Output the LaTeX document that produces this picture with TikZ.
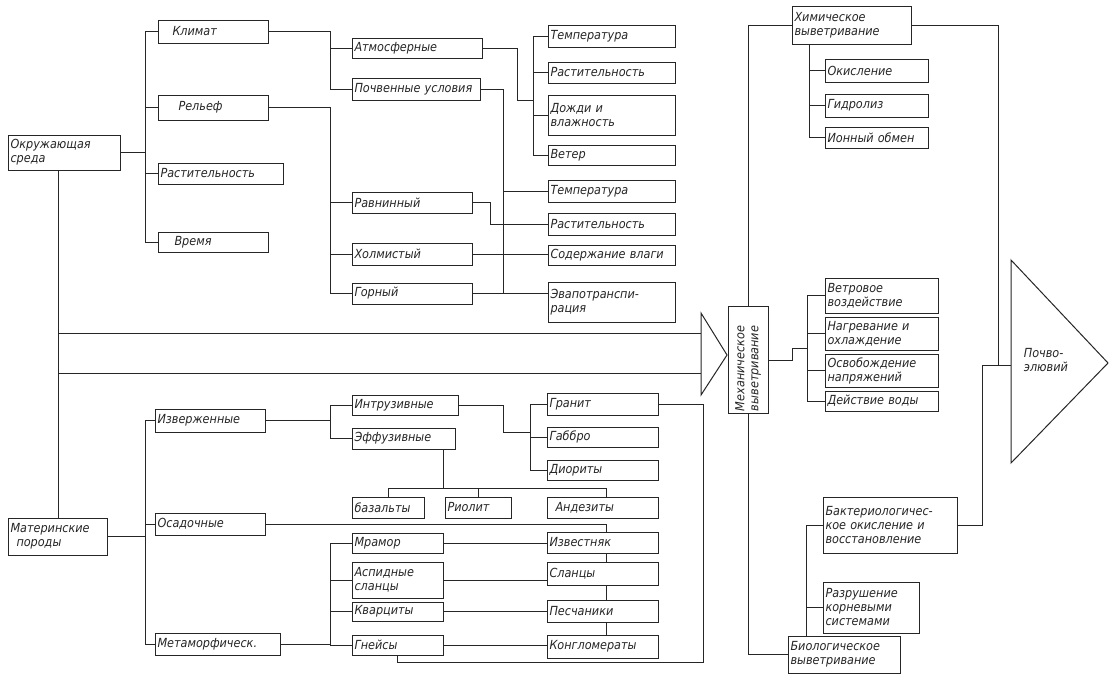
\documentclass[tikz,border=0pt]{standalone}
\usepackage{fontspec}
\setmainfont{DejaVu Sans Condensed}[ItalicFont={DejaVu Sans Condensed Oblique}]
\definecolor{ink}{HTML}{262626}
\newcommand\mybox[7][]{%
  \pgfmathsetmacro\mybw{#5-#3-5}%
  \pgfmathsetmacro\mybh{#6-#4}%
  \node[bx,#1,text width=\mybw pt,minimum height=\mybh pt,anchor=north west] (#2) at (#3,#4) {#7};%
}
\begin{document}
\begin{tikzpicture}[x=1pt,y=-1pt,line width=1pt,draw=ink,
  bx/.style={draw=ink,line width=1pt,inner xsep=2.5pt,inner ysep=0pt,outer sep=0pt,
    text=ink,font=\fontsize{12.5}{14}\selectfont\itshape,align=left}]
\fill[white] (0,0) rectangle (1110,678);
\useasboundingbox (0,0) rectangle (1110,678);

% ---- environment branch
\mybox{env}{8}{135}{120}{170}{Окружающая\\среда}
\mybox{klimat}{158}{20}{268}{43}{\hspace*{12pt}Климат}
\mybox{relief}{158}{95}{268}{120}{\hspace*{18pt}Рельеф}
\mybox{rast1}{158}{163}{283}{184}{Растительность}
\mybox{vremya}{158}{232}{268}{252}{\hspace*{14pt}Время}
\mybox{atm}{352}{38}{482}{58}{Атмосферные}
\mybox{pochv}{352}{78}{480}{100}{Почвенные условия}
\mybox{temp1}{548}{25}{675}{47}{Температура}
\mybox{rast2}{548}{62}{675}{83}{Растительность}
\mybox{dozhd}{548}{95}{675}{135}{Дожди и\\влажность}
\mybox{veter}{548}{145}{675}{165}{Ветер}
\mybox{temp2}{548}{180}{675}{202}{Температура}
\mybox{rast3}{548}{213}{675}{235}{Растительность}
\mybox{soderzh}{548}{245}{675}{265}{Содержание влаги}
\mybox{evapo}{548}{282}{675}{322}{Эвапотранспи-\\рация}
\mybox{ravn}{352}{192}{472}{213}{Равнинный}
\mybox{holm}{352}{243}{472}{265}{Холмистый}
\mybox{gorn}{352}{283}{472}{304}{Горный}

% ---- weathering
\mybox{chem}{792}{6}{911}{44}{Химическое\\выветривание}
\mybox{okis}{825}{59}{928}{82}{Окисление}
\mybox{gidr}{825}{94}{928}{117}{Гидролиз}
\mybox{ion}{825}{127}{928}{148}{Ионный обмен}
\node[bx,rotate=90,text width=102pt,minimum height=40pt] (mech) at (748,360) {Механическое\\выветривание};
\mybox{vetr}{825}{278}{938}{313}{Ветровое\\воздействие}
\mybox{nagr}{825}{317}{938}{350}{Нагревание и\\охлаждение}
\mybox{osvob}{825}{354}{938}{387}{Освобождение\\напряжений}
\mybox{deyst}{825}{391}{938}{411}{Действие воды}
\mybox{bakt}{823}{497}{957}{553}{Бактериологичес-\\кое окисление и\\восстановление}
\mybox{razr}{823}{582}{919}{633}{Разрушение\\корневыми\\системами}
\mybox{bio}{788}{636}{900}{673}{Биологическое\\выветривание}

% ---- parent rocks
\mybox{mat}{8}{518}{107}{555}{Материнские\\\hspace*{6pt}породы}
\mybox{izv}{155}{409}{265}{432}{Изверженные}
\mybox{osad}{155}{513}{265}{535}{Осадочные}
\mybox{meta}{155}{633}{280}{655}{Метаморфическ.}
\mybox{intr}{352}{395}{458}{415}{Интрузивные}
\mybox{eff}{352}{428}{455}{449}{Эффузивные}
\mybox{granit}{547}{393}{658}{415}{Гранит}
\mybox{gabbro}{547}{427}{658}{447}{Габбро}
\mybox{diorit}{547}{460}{658}{480}{Диориты}
\mybox{bazalt}{352}{497}{424}{518}{базальты}
\mybox{riolit}{445}{497}{511}{518}{Риолит}
\mybox{andez}{547}{497}{658}{518}{\hspace*{6pt}Андезиты}
\mybox{mramor}{352}{533}{443}{553}{Мрамор}
\mybox{izvest}{547}{532}{658}{553}{Известняк}
\mybox{aspid}{352}{562}{443}{598}{Аспидные\\сланцы}
\mybox{slanc}{547}{562}{658}{585}{Сланцы}
\mybox{kvarc}{352}{602}{443}{621}{Кварциты}
\mybox{pesch}{547}{600}{658}{622}{Песчаники}
\mybox{gneis}{352}{635}{443}{655}{Гнейсы}
\mybox{kongl}{547}{635}{658}{658}{Конгломераты}

% ---- triangles
\draw (701,313) -- (727,355) -- (701,395) -- cycle;
\draw (1011,260) -- (1108,363) -- (1011,463) -- cycle;
\node[text=ink,font=\fontsize{12.5}{14}\selectfont\itshape,align=left,anchor=west] (soil) at (1020,360) {Почво-\\элювий};
\coordinate (t1a) at (701,333);
\coordinate (t1b) at (701,373);
\coordinate (t2in) at (1011,365);
\coordinate (t2j) at (998,365);

% ---- connectors: environment
\draw (klimat.west) -- ++(-13,0) |- (vremya.west);
\draw (relief.west) -- ++(-13,0);
\draw (rast1.west) -- ++(-13,0);
\draw (env.east) -- (env.east -| 145,0);
\draw (klimat.east) -- ++(62,0) |- (pochv.west);
\draw (atm.west) -- ++(-22,0);
\draw (relief.east) -- ++(62,0) |- (gorn.west);
\draw (ravn.west) -- ++(-22,0);
\draw (holm.west) -- ++(-22,0);
\draw (temp1.west) -- ++(-15,0) |- (veter.west);
\draw (rast2.west) -- ++(-15,0);
\draw (dozhd.west) -- ++(-15,0);
\draw (atm.east) -- ++(35,0) -- ++(0,52) -- ++(16,0);
\draw (pochv.east) -- ++(23,0) coordinate (pv);
\draw (pv) -- (pv |- gorn.east);
\draw (temp2.west) -- (temp2.west -| pv);
\draw (ravn.east) -- ++(18,0) |- (rast3.west);
\draw (holm.east) -- (soderzh.west |- holm.east);
\draw (gorn.east) -- (evapo.west |- gorn.east);

% ---- connectors: main flow
\coordinate (vl) at ([xshift=50pt]env.south west);
\draw (vl) -- ([xshift=50pt]mat.north west);
\draw (vl |- t1a) -- (t1a);
\draw (vl |- t1b) -- (t1b);

% ---- connectors: weathering
\draw (chem.south west) ++(17,0) |- (ion.west);
\draw (okis.west) -- ++(-16,0);
\draw (gidr.west) -- ++(-16,0);
\draw (mech.east) |- (chem.west);
\draw (mech.west) |- (bio.west);
\draw (mech.south) -- ++(24,0) -- ++(0,-12) -- ++(15,0);
\draw (vetr.west) -- ++(-18,0) |- (deyst.west);
\draw (nagr.west) -- ++(-18,0);
\draw (osvob.west) -- ++(-18,0);
\draw (bio.north west) ++(18,0) |- (bakt.west);
\draw (razr.west) -- ++(-17,0);
\draw (chem.east) -| (t2j);
\draw (bakt.east) -- ++(25,0) |- (t2in);

% ---- connectors: rocks
\draw (izv.west) -- ++(-10,0) |- (meta.west);
\draw (osad.west) -- ++(-10,0);
\draw (mat.east) -- (mat.east -| 145,0);
\draw (izv.east) -- ++(65,0);
\draw (intr.west) -- ++(-22,0) |- (eff.west);
\draw (intr.east) -- ++(45,0) -- ++(0,27) -- ++(27,0);
\draw (granit.west) -- ++(-17,0) |- (diorit.west);
\draw (gabbro.west) -- ++(-17,0);
\draw ([xshift=-12pt]eff.south east) -- ++(0,39);
\draw (bazalt.north) -- ++(0,-9) -| ([xshift=4pt]andez.north);
\draw (riolit.north) -- ++(0,-9);
\draw (osad.east) -| ([xshift=4pt]izvest.north);
\draw ([xshift=4pt]izvest.south) -- ([xshift=4pt]slanc.north);
\draw ([xshift=4pt]slanc.south) -- ([xshift=4pt]pesch.north);
\draw ([xshift=4pt]pesch.south) -- ([xshift=4pt]kongl.north);
\draw (mramor.west) -- ++(-22,0) |- (gneis.west);
\draw (aspid.west) -- ++(-22,0);
\draw (kvarc.west) -- ++(-22,0);
\draw (meta.east) -- ++(50,0);
\draw (mramor.east) -- (izvest.west |- mramor.east);
\draw (aspid.east) -- (slanc.west |- aspid.east);
\draw (kvarc.east) -- (pesch.west |- kvarc.east);
\draw (gneis.east) -- (kongl.west |- gneis.east);
\draw (granit.east) -- ++(45,0) -- ++(0,258) -| (gneis.south);
\end{tikzpicture}
\end{document}
